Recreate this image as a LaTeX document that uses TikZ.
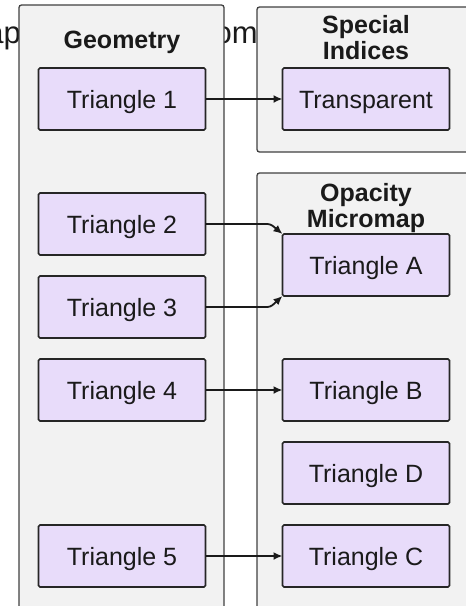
\documentclass[tikz,border=0pt]{standalone}
\usepackage{fontspec}
\setmainfont{Liberation Sans}
\usetikzlibrary{positioning}
\usetikzlibrary{fit}
\usetikzlibrary{backgrounds}
\usetikzlibrary{arrows.meta}
\definecolor{trifill}{HTML}{E8DCFA}
\definecolor{triline}{HTML}{262626}
\definecolor{panelfill}{HTML}{F2F2F2}
\definecolor{panelline}{HTML}{404040}
\definecolor{inktext}{HTML}{1A1A1A}

\begin{document}
\begin{tikzpicture}[x=1pt,y=-1pt,node distance=21pt,
  tri/.style={draw=triline,fill=trifill,line width=1.6pt,rounded corners=1.5pt,
    minimum width=167pt,minimum height=62pt,inner sep=0pt,outer sep=0pt,text=inktext,
    font=\fontsize{25}{30}\selectfont,text height=18pt,text depth=0pt},
  panel/.style={draw=panelline,fill=panelfill,line width=1.3pt,rounded corners=2.5pt,inner sep=0pt},
  paneltitle/.style={anchor=north,inner sep=0pt,align=center,text=inktext,
    font=\fontsize{25}{26}\bfseries\selectfont},
  behind/.style={inner sep=0pt,text=inktext,font=\fontsize{31}{36}\selectfont},
  link/.style={-{Latex[length=9pt,width=8pt]},line width=1.8pt,draw=inktext}]
  \useasboundingbox (0,0) rectangle (466,606);
  \node[tri] (t1) at (122,99) {Triangle 1};
  \node[tri,below=63pt of t1] (t2) {Triangle 2};
  \node[tri,below=of t2] (t3) {Triangle 3};
  \node[tri,below=of t3] (t4) {Triangle 4};
  \node[tri,below=104pt of t4] (t5) {Triangle 5};
  \node[tri,right=77pt of t1] (transp) {Transparent};
  \node[tri,right=77pt of t4] (tb) {Triangle B};
  \node[tri,above=63pt of tb] (ta) {Triangle A};
  \node[tri,below=of tb] (td) {Triangle D};
  \node[tri,below=of td] (tc) {Triangle C};
  \node[paneltitle] (geomtitle) at (122,31) {Geometry};
  \node[paneltitle] (spectitle) at (366,15) {Special\\Indices};
  \node[paneltitle] (omtitle) at (366,183) {Opacity\\Micromap};
  \begin{scope}[on background layer]
    \node[behind,anchor=base east] (capleft) at (21,43) {ap};
    \node[behind,anchor=base east] (capright) at (258,43) {om};
    \node[panel,fit={(19,5) (224,660)}] (geometry) {};
    \node[panel,fit={(257,7) (490,152)}] (special) {};
    \node[panel,fit={(257,173) (490,660)}] (micromap) {};
  \end{scope}
  \draw[link] (t1) -- (transp);
  \draw[link,rounded corners=3pt] (t2.east) -- ++(65pt,0) -- (ta.north west);
  \draw[link,rounded corners=3pt] (t3.east) -- ++(65pt,0) -- (ta.south west);
  \draw[link] (t4) -- (tb);
  \draw[link] (t5) -- (tc);
\end{tikzpicture}
\end{document}
